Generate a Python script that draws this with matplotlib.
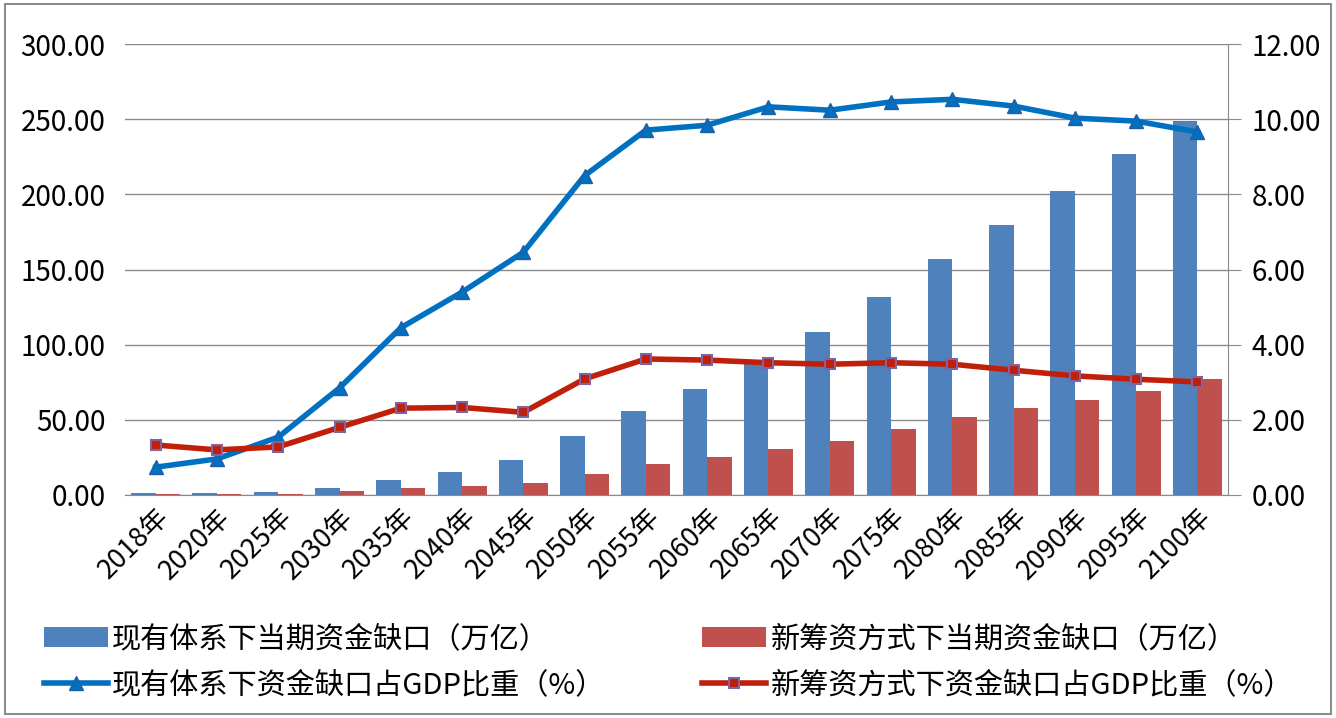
import numpy as np
import matplotlib.pyplot as plt
from matplotlib.patches import Rectangle

plt.rcParams['font.family'] = ['Noto Sans CJK SC', 'DejaVu Sans']

years = ['2018年', '2020年', '2025年', '2030年', '2035年', '2040年', '2045年', '2050年', '2055年',
         '2060年', '2065年', '2070年', '2075年', '2080年', '2085年', '2090年', '2095年', '2100年']

# 当期资金缺口（万亿）
gap_current = [1.0, 1.0, 2.0, 4.8, 10.0, 15.0, 23.0, 39.0, 55.7, 70.3, 87.0, 108.6,
               131.7, 157.0, 179.6, 202.0, 227.0, 249.0]
gap_new = [0.5, 0.5, 0.7, 2.9, 4.9, 6.0, 7.8, 13.8, 20.6, 25.5, 30.4, 36.1,
           43.9, 51.7, 57.7, 63.2, 69.4, 77.2]

# 资金缺口占GDP比重（%）
ratio_current = [0.74, 0.96, 1.54, 2.85, 4.45, 5.40, 6.46, 8.50, 9.71, 9.84, 10.33, 10.24,
                 10.46, 10.53, 10.35, 10.03, 9.95, 9.66]
ratio_new = [1.33, 1.20, 1.28, 1.80, 2.31, 2.33, 2.20, 3.09, 3.62, 3.59, 3.52, 3.48,
             3.52, 3.48, 3.32, 3.17, 3.08, 3.01]

fig = plt.figure(figsize=(13.36, 7.18), dpi=100)
fig.patches.append(Rectangle((0.004, 0.006), 0.992, 0.988, transform=fig.transFigure,
                             fill=False, edgecolor='#8c8c8c', linewidth=1.5))

ax = fig.add_axes([0.0936, 0.3106, 0.8256, 0.628])
x = np.arange(len(years))
w = 0.4
ax.bar(x - w / 2, gap_current, w, color='#4F81BD', label='现有体系下当期资金缺口（万亿）', zorder=2)
ax.bar(x + w / 2, gap_new, w, color='#C0504D', label='新筹资方式下当期资金缺口（万亿）', zorder=2)

ax.set_xlim(-0.5, len(years) - 0.5)
ax.set_ylim(0, 300)
ax.set_yticks(np.arange(0, 301, 50))
ax.set_yticklabels([f'{v:.2f}' for v in np.arange(0, 301, 50)], fontsize=20)
ax.yaxis.grid(True, color='#8a8a8a', linewidth=1)
ax.set_axisbelow(True)
ax.tick_params(axis='y', length=0, pad=14)
ax.set_xticks(x)
ax.set_xticklabels(years, rotation=45, ha='right', rotation_mode='anchor', fontsize=19.5)
ax.tick_params(axis='x', length=0, pad=6)
for s in ['top', 'left', 'right']:
    ax.spines[s].set_visible(False)
ax.spines['bottom'].set_color('#8a8a8a')

ax2 = ax.twinx()
ax2.plot(x, ratio_current, color='#0070C0', linewidth=4, marker='^', markersize=10,
         markerfacecolor='#0070C0', markeredgecolor='#1f5fa8', label='现有体系下资金缺口占GDP比重（%）', zorder=3)
ax2.plot(x, ratio_new, color='#C0200A', linewidth=4, marker='s', markersize=7,
         markerfacecolor='#C0200A', markeredgecolor='#8064A2', markeredgewidth=1.5,
         label='新筹资方式下资金缺口占GDP比重（%）', zorder=3)
ax2.set_ylim(0, 12)
ax2.set_yticks(np.arange(0, 12.1, 2))
ax2.set_yticklabels([f'{v:.2f}' for v in np.arange(0, 12.1, 2)], fontsize=20)
ax2.tick_params(axis='y', length=9, color='#8a8a8a', pad=8)
for s in ['top', 'left', 'bottom']:
    ax2.spines[s].set_visible(False)
ax2.spines['right'].set_color('#8a8a8a')

h1, l1 = ax.get_legend_handles_labels()
h2, l2 = ax2.get_legend_handles_labels()
handles = [h1[0], h2[0], h1[1], h2[1]]
labels = [l1[0], l2[0], l1[1], l2[1]]
fig.legend(handles, labels, ncol=2, loc='lower left', bbox_to_anchor=(0.013, -0.012),
           frameon=False, fontsize=21, handlelength=2.2, handletextpad=0.15,
           columnspacing=3.3, labelspacing=0.55)

fig.savefig('out.png', dpi=100)
